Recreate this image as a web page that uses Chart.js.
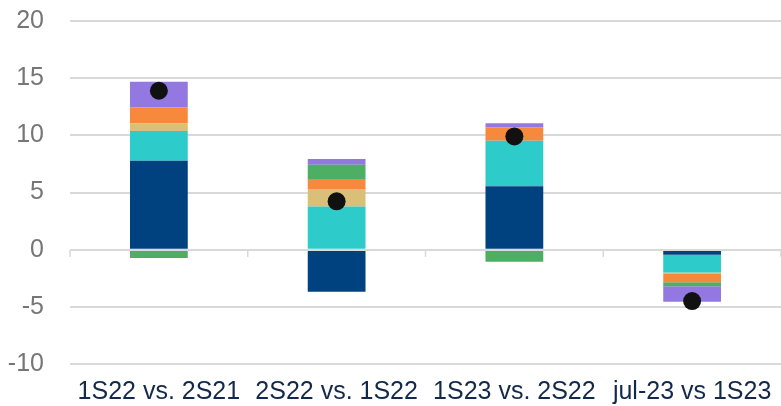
<!DOCTYPE html>
<html>
<head>
<meta charset="utf-8">
<script src="https://cdn.jsdelivr.net/npm/chart.js@4/dist/chart.umd.min.js"></script>
<style>
  html, body { margin: 0; padding: 0; background: #fff; }
  #wrap { width: 781px; height: 406px; position: relative; }
</style>
</head>
<body>
<div id="wrap"><canvas id="c"></canvas></div>
<script>
// Period comparisons on the category axis
const categories = ['1S22 vs. 2S21', '2S22 vs. 1S22', '1S23 vs. 2S22', 'jul-23 vs 1S23'];

// Contributions of each component (percentage points)
const compNavy   = [7.78, -3.69, 5.54, -0.44];
const compTeal   = [2.59, 3.77, 3.98, -1.56];
const compTan    = [0.69, 1.54, 0.00, -0.12];
const compOrange = [1.39, 0.87, 1.19, -0.72];
const compGreen  = [-0.73, 1.25, -1.05, -0.35];
const compPurple = [2.23, 0.50, 0.35, -1.36];

// Overall change shown as a dot
const totalChange = [13.9, 4.23, 9.9, -4.5];

// Value axis range and step
const yMin = -10, yMax = 20, yStep = 5;

const FONT = "'Liberation Sans', Arial, Helvetica, sans-serif";
const GRID = '#d9d9d9';

function barSet(data, color) {
  return {
    type: 'bar',
    data: data,
    backgroundColor: color,
    borderWidth: 0,
    stack: 'parts',
    order: 1,
    categoryPercentage: 1,
    barPercentage: 0.325
  };
}

// Horizontal axis line at zero with tick marks on the category boundaries,
// painted over the bars
const zeroAxis = {
  id: 'zeroAxis',
  afterDatasetsDraw(chart) {
    const { ctx, chartArea } = chart;
    const xs = chart.scales.x, ys = chart.scales.y;
    const y0 = Math.round(ys.getPixelForValue(0));
    ctx.save();
    ctx.strokeStyle = GRID;
    ctx.lineWidth = 2;
    ctx.beginPath();
    ctx.moveTo(chartArea.left, y0);
    ctx.lineTo(chartArea.right, y0);
    ctx.stroke();
    ctx.lineWidth = 1.5;
    ctx.beginPath();
    for (let i = 0; i <= categories.length; i++) {
      const x = xs.getPixelForValue(i - 0.5);
      ctx.moveTo(x, y0);
      ctx.lineTo(x, y0 + 7);
    }
    ctx.stroke();
    ctx.restore();
  }
};

new Chart(document.getElementById('c'), {
  type: 'bar',
  data: {
    labels: categories,
    datasets: [
      barSet(compNavy, '#00427f'),
      barSet(compTeal, '#2ecbcb'),
      barSet(compTan, '#d9bf78'),
      barSet(compOrange, '#f6893b'),
      barSet(compGreen, '#4caf64'),
      barSet(compPurple, '#9278e0'),
      {
        type: 'line',
        data: totalChange,
        stack: 'total',
        showLine: false,
        order: 0,
        pointRadius: 9,
        pointHoverRadius: 9,
        pointBackgroundColor: '#111111',
        pointBorderWidth: 0,
        borderColor: '#111111'
      }
    ]
  },
  plugins: [zeroAxis],
  options: {
    responsive: true,
    maintainAspectRatio: false,
    animation: false,
    events: [],
    layout: { autoPadding: false, padding: { top: 21, right: 0, bottom: 0, left: 0 } },
    plugins: {
      legend: { display: false },
      tooltip: { enabled: false }
    },
    scales: {
      x: {
        type: 'category',
        stacked: true,
        grid: { display: false, drawTicks: false },
        border: { display: false },
        ticks: {
          color: '#13294b',
          font: { family: FONT, size: 25 },
          padding: 13,
          maxRotation: 0,
          autoSkip: false
        },
        afterFit: s => {
          s.height = 42;
          s.paddingLeft = 0;
          s.paddingRight = 0;
        }
      },
      y: {
        stacked: true,
        min: yMin,
        max: yMax,
        ticks: {
          stepSize: yStep,
          color: '#767676',
          font: { family: FONT, size: 25 },
          padding: 26
        },
        grid: { color: GRID, lineWidth: 2, drawTicks: false },
        border: { display: false },
        afterFit: s => {
          s.width = 70;
          s.paddingTop = 0;
          s.paddingBottom = 0;
        }
      }
    }
  }
});
</script>
</body>
</html>
